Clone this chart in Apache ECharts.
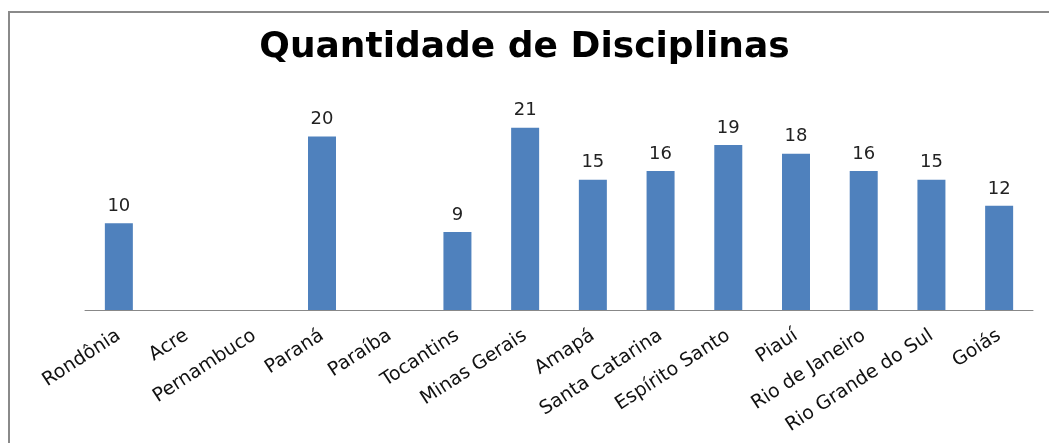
<!DOCTYPE html>
<html><head><meta charset="utf-8">
<script src="https://cdn.jsdelivr.net/npm/echarts@6/dist/echarts.min.js"></script>
<style>html,body{margin:0;padding:0;background:#fff}#c{width:1049px;height:443px}</style>
</head><body><div id="c"></div>
<script>
const categories = ['Rondônia','Acre','Pernambuco','Paraná','Paraíba','Tocantins','Minas Gerais','Amapá','Santa Catarina','Espírito Santo','Piauí','Rio de Janeiro','Rio Grande do Sul','Goiás'];
const values = [10, null, null, 20, null, 9, 21, 15, 16, 19, 18, 16, 15, 12];
const titleText = 'Quantidade de Disciplinas';

const chart = echarts.init(document.getElementById('c'), null, {renderer:'canvas'});
chart.setOption({
  animation: false,
  title: {
    text: titleText, left: 'center', top: 25,
    textStyle: {fontFamily: 'DejaVu Sans', fontWeight: 'bold', fontSize: 36, color: '#000'}
  },
  graphic: [{
    type: 'rect', shape: {x: 9, y: 12, width: 1100, height: 500},
    style: {fill: 'none', stroke: '#8a8a8a', lineWidth: 2}, silent: true
  }],
  grid: {left: 85, right: 16, top: 93, bottom: 133},
  xAxis: {
    type: 'category', data: categories,
    axisLine: {lineStyle: {color: '#888', width: 1}},
    axisTick: {show: false},
    axisLabel: {rotate: 33, interval: 0, fontFamily: 'DejaVu Sans', fontSize: 19, color: '#111', margin: 24}
  },
  yAxis: {type: 'value', min: 0, max: 25, show: false, splitLine: {show: false}},
  series: [{
    type: 'bar', data: values, barWidth: 28,
    itemStyle: {color: '#4f81bd'},
    label: {show: true, position: 'top', distance: 8, fontFamily: 'DejaVu Sans', fontSize: 18, color: '#222'}
  }]
});
</script></body></html>
